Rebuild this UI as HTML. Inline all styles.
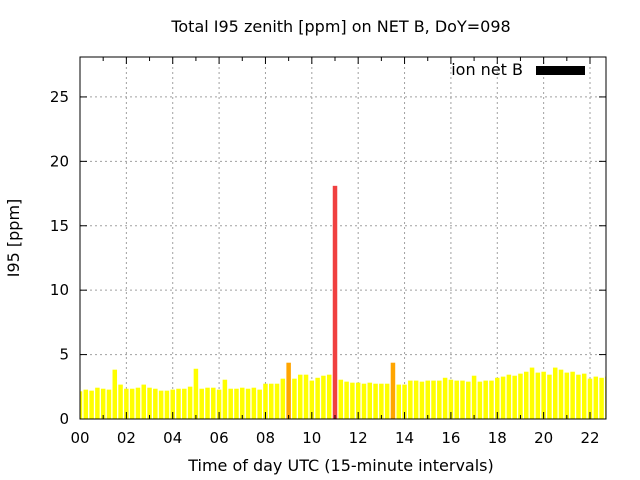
<!DOCTYPE html>
<html><head><meta charset="utf-8"><style>body{margin:0;background:#fff}svg{display:block;font-family:"DejaVu Sans","Liberation Sans",sans-serif}</style></head>
<body>
<svg id="chart" width="640" height="480">
<defs><clipPath id="pc"><rect x="80" y="57" width="526" height="362"/></clipPath></defs>
<text x="341" y="32" font-size="16" text-anchor="middle">Total I95 zenith [ppm] on NET B, DoY=098</text>
<text x="341" y="471" font-size="16" text-anchor="middle">Time of day UTC (15-minute intervals)</text>
<text x="19" y="238" font-size="16" text-anchor="middle" transform="rotate(-90 19 238)">I95 [ppm]</text>
<g id="grid"></g><g id="bars" clip-path="url(#pc)"></g><g id="axes"></g>
<rect x="80" y="57" width="526" height="362" fill="none" stroke="#000" stroke-width="1"/>
<g>
<text x="523" y="75" font-size="16" text-anchor="end">ion net B</text>
<rect x="536" y="66" width="49" height="9" fill="#000"/>
</g>
</svg>
<script>
const values=[2.15,2.28,2.2,2.43,2.35,2.28,3.83,2.67,2.35,2.35,2.43,2.67,2.43,2.35,2.2,2.2,2.28,2.35,2.35,2.51,3.9,2.35,2.43,2.43,2.28,3.05,2.35,2.35,2.43,2.35,2.43,2.28,2.74,2.74,2.74,3.13,4.37,3.13,3.44,3.44,2.98,3.2,3.36,3.44,18.1,3.05,2.9,2.82,2.82,2.74,2.82,2.74,2.74,2.74,4.37,2.67,2.67,2.98,2.98,2.9,2.98,2.98,2.98,3.2,3.05,2.98,2.98,2.9,3.36,2.9,2.98,2.98,3.2,3.29,3.44,3.36,3.52,3.67,3.99,3.6,3.67,3.44,3.99,3.83,3.6,3.67,3.44,3.52,3.13,3.29,3.2,3.29];
const yTicks=[0,5,10,15,20,25];
const xTicks=[0,2,4,6,8,10,12,14,16,18,20,22];
const xTickLabels=["00","02","04","06","08","10","12","14","16","18","20","22"];
const NS="http://www.w3.org/2000/svg";
const X0=80,X1=606,Y0=419,Y1=57,XMAX=22.69,YMAX=28.1;
const xs=h=>X0+h/XMAX*(X1-X0), ys=v=>Y0-v/YMAX*(Y0-Y1);
function mk(t,a,p){const e=document.createElementNS(NS,t);for(const k in a)e.setAttribute(k,a[k]);p.appendChild(e);return e;}
const grid=document.getElementById('grid'),axes=document.getElementById('axes'),bars=document.getElementById('bars');
yTicks.forEach(v=>{const y=ys(v);
 if(v>0){const g=mk('line',{x1:X0,x2:X1,y1:y,y2:y,stroke:'#a0a0a0','stroke-dasharray':'2,3'},grid);
 
 }
 mk('line',{x1:X0,x2:X0+7,y1:y,y2:y,stroke:'#000'},axes);
 mk('line',{x1:X1-7,x2:X1,y1:y,y2:y,stroke:'#000'},axes);
 const t=mk('text',{x:X0-11,y:y+5,'font-size':15,'text-anchor':'end'},axes);t.textContent=v;
 
 });
xTicks.forEach((h,i)=>{const x=xs(h);
 if(h>0){const g=mk('line',{x1:x,x2:x,y1:Y0,y2:Y1,stroke:'#a0a0a0','stroke-dasharray':'2,3'},grid);
 
 }
 mk('line',{x1:x,x2:x,y1:Y0,y2:Y0-7,stroke:'#000'},axes);
 mk('line',{x1:x,x2:x,y1:Y1,y2:Y1+7,stroke:'#000'},axes);
 const t=mk('text',{x:x,y:443,'font-size':15,'text-anchor':'middle'},axes);t.textContent=xTickLabels[i];
 
 });
for(let h=1;h<=22;h+=2){const x=xs(h);mk('line',{x1:x,x2:x,y1:Y0,y2:Y0-4,stroke:'#000'},axes);mk('line',{x1:x,x2:x,y1:Y1,y2:Y1+4,stroke:'#000'},axes);}
values.forEach((v,i)=>{const c=xs(i*0.25),w=4.5;
 const col=v>10?'#f04040':(v>4?'#ffa500':'#ffff00');
 const r=mk('rect',{x:c-w/2,y:ys(v),width:w,height:Y0-ys(v),fill:col},bars);
 
 });
</script>
</body></html>
